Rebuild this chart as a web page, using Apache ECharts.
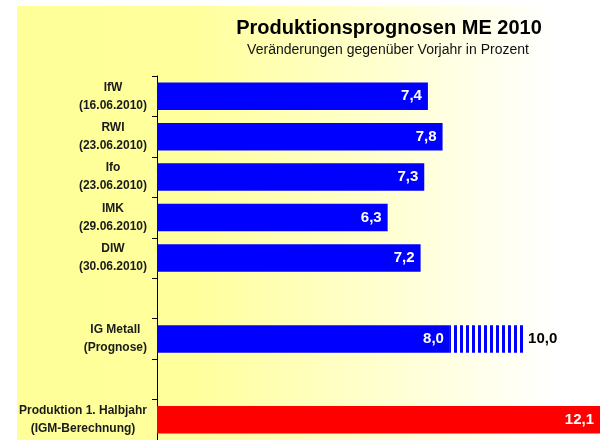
<!DOCTYPE html>
<html>
<head>
<meta charset="utf-8">
<script src="https://cdn.jsdelivr.net/npm/echarts@6/dist/echarts.min.js"></script>
<style>
    html, body { margin: 0; padding: 0; background: #fff; }
    #chart { width: 600px; height: 440px; }
</style>
</head>
<body>
<div id="chart"></div>
<script>

// Werte aus der Vorlage
const institutes = ['IfW', 'RWI', 'Ifo', 'IMK', 'DIW'];
const instituteDates = ['(16.06.2010)', '(23.06.2010)', '(23.06.2010)', '(29.06.2010)', '(30.06.2010)'];
const instituteValues = [7.4, 7.8, 7.3, 6.3, 7.2];

const igLabel = ['IG Metall', '(Prognose)'];
const igLow = 8.0;
const igHigh = 10.0;

const halbjahrLabel = ['Produktion 1. Halbjahr', '(IGM-Berechnung)'];
const halbjahrValue = 12.1;

const titleText = 'Produktionsprognosen ME 2010';
const subtitleText = 'Veränderungen gegenüber Vorjahr in Prozent';

const FONT = '"Liberation Sans", Arial, sans-serif';

function fmt(v) {
    return v.toFixed(1).replace('.', ',');
}

// Kategorien + Zeilen zusammenbauen (leere Zeilen wie im Original)
let categories = [], labelLines = [], mainData = [], rangeData = [];

for (let x = 0; x < institutes.length; x++) {
    categories.push(institutes[x]);
    labelLines.push([institutes[x], instituteDates[x]]);
    mainData.push(instituteValues[x]);
    rangeData.push('-');
}

categories.push('leer1');
labelLines.push([]);
mainData.push('-');
rangeData.push('-');

categories.push('IG');
labelLines.push(igLabel);
mainData.push(igLow);
rangeData.push(+(igHigh - igLow).toFixed(1));

categories.push('leer2');
labelLines.push([]);
mainData.push('-');
rangeData.push('-');

categories.push('Halbjahr');
labelLines.push(halbjahrLabel);
mainData.push({ value: halbjahrValue, itemStyle: { color: '#FF0000' } });
rangeData.push('-');

// Streifenmuster fuer den Prognose-Korridor
var stripe = document.createElement('canvas');
stripe.width = 6;
stripe.height = 10;
var ctx = stripe.getContext('2d');
ctx.fillStyle = '#0000FF';
ctx.fillRect(0, 0, 6, 10);
ctx.fillStyle = '#ffffff';
ctx.fillRect(1, 0, 3, 10);

var myChart = echarts.init(document.getElementById('chart'));

var option = {
    animation: false,
    backgroundColor: '#ffffff',
    graphic: [
        {
            type: 'rect',
            z: -100,
            silent: true,
            shape: { x: 17, y: 6, width: 583, height: 434 },
            style: {
                fill: new echarts.graphic.LinearGradient(0, 0, 1, 0, [
                    { offset: 0, color: '#FFFF99' },
                    { offset: 0.3, color: '#FFFF9C' },
                    { offset: 0.92, color: '#FFFFFF' },
                    { offset: 1, color: '#FFFFFF' }
                ])
            }
        }
    ],
    title: [
        {
            text: titleText,
            left: 384,
            top: 13,
            textAlign: 'center',
            textStyle: {
                fontFamily: FONT,
                fontSize: 20,
                fontWeight: 'bold',
                color: '#000'
            }
        },
        {
            text: subtitleText,
            left: 383,
            top: 38,
            textAlign: 'center',
            textStyle: {
                fontFamily: FONT,
                fontSize: 14,
                fontWeight: 'normal',
                color: '#111'
            }
        }
    ],
    grid: {
        left: 157,
        right: 0,
        top: 76,
        bottom: -6,
        containLabel: false
    },
    xAxis: {
        type: 'value',
        min: 0,
        max: halbjahrValue,
        show: false
    },
    yAxis: {
        type: 'category',
        inverse: true,
        data: categories,
        axisLine: { show: true, lineStyle: { color: '#000', width: 1 } },
        axisTick: { show: true, length: 5, lineStyle: { color: '#000' } },
        splitLine: { show: false },
        axisLabel: {
            margin: 10,
            align: 'right',
            interval: 0,
            formatter: function (value, idx) {
                let lines = labelLines[idx] || [];
                if (lines.length === 0) return '';
                return lines.map(function (l) { return '{a|' + l + '}'; }).join('\n');
            },
            rich: {
                a: {
                    align: 'center',
                    fontFamily: FONT,
                    fontSize: 12,
                    fontWeight: 'bold',
                    color: '#1a1a1a',
                    lineHeight: 18
                }
            }
        }
    },
    series: [
        {
            name: 'Prognose',
            type: 'bar',
            stack: 'me',
            barCategoryGap: '32%',
            itemStyle: { color: '#0000FF' },
            label: {
                show: true,
                position: 'insideRight',
                distance: 6,
                fontFamily: FONT,
                fontSize: 15,
                fontWeight: 'bold',
                color: '#fff',
                formatter: function (p) { return fmt(p.value); }
            },
            data: mainData
        },
        {
            name: 'Korridor',
            type: 'bar',
            stack: 'me',
            barCategoryGap: '32%',
            itemStyle: {
                color: { image: stripe, repeat: 'repeat' }
            },
            label: {
                show: true,
                position: 'right',
                distance: 5,
                fontFamily: FONT,
                fontSize: 15,
                fontWeight: 'bold',
                color: '#000',
                formatter: function () { return fmt(igHigh); }
            },
            data: rangeData
        }
    ]
};

myChart.setOption(option);

</script>
</body>
</html>
